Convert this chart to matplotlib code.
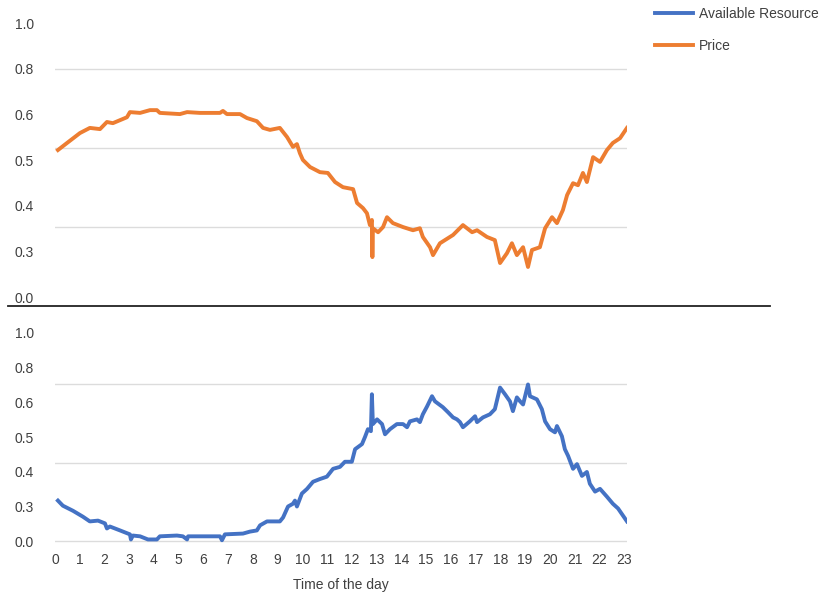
import numpy as np
import matplotlib.pyplot as plt
from matplotlib.lines import Line2D

plt.rcParams['font.family'] = ['Liberation Sans', 'DejaVu Sans']

# Price (top panel), hour of day vs value (grid units)
price_hour = [0.12, 0.49, 1.01, 1.41, 1.82, 2.10, 2.34, 2.91, 3.03, 3.44, 3.84, 4.12,
              4.24, 5.05, 5.34, 5.86, 6.67, 6.79, 6.95, 7.48, 7.76, 8.16, 8.41, 8.69,
              9.09, 9.38, 9.62, 9.78, 9.90, 10.02, 10.31, 10.71, 11.03, 11.32, 11.64,
              12.05, 12.21, 12.45, 12.61, 12.73, 12.81, 12.83, 12.85, 13.06, 13.26,
              13.42, 13.66, 14.07, 14.47, 14.75, 14.87, 15.16, 15.28, 15.56, 16.09,
              16.49, 16.86, 17.06, 17.46, 17.78, 17.99, 18.27, 18.47, 18.67, 18.92,
              19.12, 19.28, 19.60, 19.81, 20.09, 20.29, 20.53, 20.70, 20.94, 21.14,
              21.34, 21.50, 21.75, 22.03, 22.31, 22.55, 22.84, 23.12]
price = [0.395, 0.413, 0.438, 0.451, 0.448, 0.466, 0.463, 0.478, 0.491, 0.489, 0.496, 0.496,
         0.489, 0.486, 0.491, 0.489, 0.489, 0.494, 0.486, 0.486, 0.476, 0.468, 0.451, 0.446,
         0.451, 0.428, 0.403, 0.410, 0.387, 0.370, 0.352, 0.339, 0.337, 0.314, 0.301,
         0.296, 0.261, 0.248, 0.235, 0.205, 0.218, 0.124, 0.197, 0.187, 0.200,
         0.225, 0.210, 0.200, 0.192, 0.197, 0.175, 0.149, 0.129, 0.159, 0.180,
         0.205, 0.187, 0.192, 0.175, 0.167, 0.109, 0.134, 0.159, 0.129, 0.149,
         0.099, 0.142, 0.149, 0.197, 0.225, 0.210, 0.243, 0.281, 0.311, 0.306,
         0.337, 0.314, 0.377, 0.365, 0.395, 0.413, 0.425, 0.451]

# Available Resource (bottom panel)
res_hour = [0.12, 0.32, 0.73, 1.13, 1.41, 1.74, 2.02, 2.10, 2.22, 2.63, 3.03, 3.07, 3.15,
            3.44, 3.76, 4.12, 4.24, 4.93, 5.17, 5.34, 5.38, 6.67, 6.75, 6.87, 7.60, 7.88,
            8.16, 8.29, 8.57, 9.09, 9.22, 9.42, 9.62, 9.70, 9.78, 9.98, 10.19, 10.43,
            10.71, 10.99, 11.24, 11.52, 11.72, 12.00, 12.13, 12.41, 12.53, 12.65, 12.77,
            12.81, 12.85, 13.02, 13.22, 13.34, 13.54, 13.82, 14.07, 14.23, 14.35, 14.63,
            14.75, 14.87, 15.04, 15.24, 15.36, 15.68, 15.89, 16.09, 16.25, 16.37, 16.49,
            16.77, 16.98, 17.06, 17.30, 17.58, 17.78, 17.99, 18.19, 18.39, 18.51, 18.67,
            18.80, 18.92, 19.12, 19.20, 19.48, 19.68, 19.81, 20.01, 20.21, 20.29, 20.49,
            20.61, 20.74, 20.94, 21.10, 21.30, 21.50, 21.62, 21.83, 22.03, 22.31, 22.55,
            22.76, 23.12]
resource = [0.104, 0.091, 0.078, 0.063, 0.051, 0.053, 0.046, 0.033, 0.038, 0.028, 0.018, 0.005, 0.015,
            0.013, 0.005, 0.005, 0.013, 0.015, 0.013, 0.005, 0.013, 0.013, 0.003, 0.018, 0.020, 0.025,
            0.028, 0.041, 0.051, 0.051, 0.061, 0.089, 0.096, 0.104, 0.089, 0.122, 0.134, 0.152,
            0.159, 0.165, 0.185, 0.190, 0.203, 0.203, 0.235, 0.248, 0.266, 0.286, 0.281,
            0.375, 0.299, 0.311, 0.299, 0.273, 0.286, 0.299, 0.299, 0.291, 0.306, 0.311,
            0.304, 0.324, 0.344, 0.370, 0.357, 0.342, 0.329, 0.316, 0.311, 0.304, 0.291,
            0.306, 0.319, 0.304, 0.316, 0.324, 0.337, 0.392, 0.375, 0.357, 0.332, 0.367,
            0.357, 0.349, 0.400, 0.370, 0.362, 0.337, 0.306, 0.286, 0.278, 0.294, 0.268,
            0.235, 0.218, 0.185, 0.197, 0.167, 0.177, 0.147, 0.127, 0.134, 0.114, 0.096,
            0.084, 0.051]

hours = list(range(24))
ytick_labels = ['1.0', '0.8', '0.6', '0.5', '0.4', '0.3', '0.0']

blue = '#4472C4'
orange = '#ED7D31'
grid_c = '#dcdcdc'
txt_c = '#404040'

fig = plt.figure(figsize=(8.29, 5.99), dpi=100)
ax1 = fig.add_axes([0.0663, 0.489, 0.690, 0.494])
ax2 = fig.add_axes([0.0663, 0.0935, 0.690, 0.3957])

for ax in (ax1, ax2):
    for s in ax.spines.values():
        s.set_visible(False)
    ax.set_xlim(0, 23.12)
    ax.yaxis.remove_overlapping_locs = False
    ax.tick_params(axis='both', length=0, labelsize=10, colors=txt_c)
    ax.tick_params(axis='y', which='minor', length=0, pad=15, labelsize=10, labelcolor=txt_c)
    ax.grid(axis='y', which='major', color=grid_c, lw=1)
    ax.set_axisbelow(True)

# top panel
ax1.set_ylim(0, 0.749)
ax1.set_yticks([0.2, 0.4, 0.6], ['', '', ''])
ax1.set_yticks(np.linspace(0.716, 0.023, 7), ytick_labels, minor=True)
ax1.set_xticks(hours, [''] * 24)
p_line, = ax1.plot(price_hour, price, color=orange, lw=2.8)

# bottom panel
ax2.set_ylim(-0.004, 0.6)
ax2.set_yticks([0.0, 0.2, 0.4], ['', '', ''])
ax2.set_yticks(np.linspace(0.532, 0.0, 7), ytick_labels, minor=True)
ax2.set_xticks(hours, [str(h) for h in hours])
ax2.tick_params(axis='x', pad=7)
r_line, = ax2.plot(res_hour, resource, color=blue, lw=2.8)
ax2.set_xlabel('Time of the day', fontsize=10, color=txt_c, labelpad=8)

# separator between panels
fig.add_artist(Line2D([8 / 829, 770 / 829], [293 / 599, 293 / 599], color='#222222', lw=1.3))

fig.legend([r_line, p_line], ['Available Resource', 'Price'], loc='upper left',
           bbox_to_anchor=(655 / 829, 1 - 7 / 599), frameon=False, fontsize=10,
           handlelength=2.7, handletextpad=0.45, labelspacing=1.3,
           borderpad=0, borderaxespad=0, labelcolor=txt_c)

fig.savefig('out.png', dpi=100, facecolor='white')
